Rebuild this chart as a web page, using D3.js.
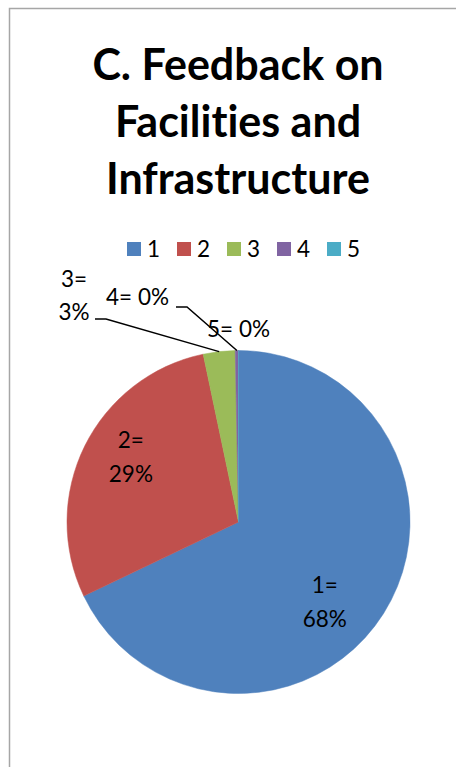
<!DOCTYPE html>
<html>
<head>
<meta charset="utf-8">
<script src="https://cdn.jsdelivr.net/npm/d3@7"></script>
<style>
  body { margin: 0; background: #fff; }
  svg { display: block; font-family: Lato, "Open Sans", sans-serif; font-variant-ligatures: none; }
</style>
</head>
<body>
<div id="chart"></div>
<script>
// data (share of answers, in %)
const categories = ["1", "2", "3", "4", "5"];
const shares = [67.9, 28.8, 3.0, 0.3, 0.0];
const colors = ["#4F81BD", "#C0504D", "#9BBB59", "#8064A2", "#4BACC6"];
const titleLines = ["C. Feedback on", "Facilities and", "Infrastructure"];

const width = 456, height = 767;

let svg = d3.select("#chart")
    .append("svg")
    .attr("width", width)
    .attr("height", height);

// chart frame (only left + top edge fall in the picture)
svg.append("path")
    .attr("d", `M9.5,${height} V8.5 H${width}`)
    .attr("fill", "none")
    .attr("stroke", "#a6a6a6")
    .attr("stroke-width", 1.5);

// title
svg.append("g")
    .selectAll("text")
    .data(titleLines)
    .join("text")
    .attr("x", 238)
    .attr("y", (d, i) => 80 + i * 57)
    .attr("text-anchor", "middle")
    .style("font-weight", "bold")
    .style("font-size", "43px")
    .text(d => d);

// legend
let legend = svg.append("g")
    .attr("transform", "translate(127, 242)")
    .selectAll("g")
    .data(categories)
    .join("g")
    .attr("transform", (d, i) => `translate(${i * 50}, 0)`);

legend.append("rect")
    .attr("width", 14)
    .attr("height", 14)
    .attr("fill", (d, i) => colors[i]);

legend.append("text")
    .attr("x", 20)
    .attr("y", 14.5)
    .style("font-size", "22.5px")
    .text(d => d);

// pie, first slice starts at 12 o'clock and goes clockwise
const cx = 238.5, cy = 522, r = 171.5;

let pie = d3.pie().sort(null).value(d => d.v);
let arcs = pie(categories.map((c, i) => ({ name: c, v: shares[i], color: colors[i] })));

let arc = d3.arc().innerRadius(0).outerRadius(r);

let g = svg.append("g")
    .attr("transform", `translate(${cx}, ${cy})`);

g.selectAll("path")
    .data(arcs)
    .join("path")
    .attr("d", arc)
    .attr("fill", d => d.data.color)
    .attr("stroke", d => d.data.color)
    .attr("stroke-width", 0.5);

// point on the circle at a given angle (radians, clockwise from top)
function polar(a, rad) {
    return [Math.sin(a) * rad, -Math.cos(a) * rad];
}

// label placement (Excel "best fit" + dragged outside labels)
// inside: radius factor + angle shift; outside: label offset from pie centre
const labelLayout = [
    { inside: true, rf: 0.735, shift: 0.255 },
    { inside: true, rf: 0.70, shift: 0.0 },
    { inside: false, x: -164.5, y: -235, lines: 2, leader: [-143.5, -203] },
    { inside: false, x: -101, y: -217, lines: 1, leader: [-62.5, -215] },
    { inside: false, x: 0, y: -185, lines: 1 }
];

arcs.forEach(function (d, i) {
    let lay = labelLayout[i];
    let pct = Math.round(d.data.v) + "%";
    let name = d.data.name + "=";
    let mid = (d.startAngle + d.endAngle) / 2;

    let t = g.append("text")
        .attr("text-anchor", "middle")
        .style("font-size", "22.5px");

    if (lay.inside) {
        let p = polar(mid + lay.shift, r * lay.rf);
        t.append("tspan").attr("x", p[0]).attr("y", p[1] - 21).text(name);
        t.append("tspan").attr("x", p[0]).attr("y", p[1] + 13).text(pct);
        return;
    }

    if (lay.lines === 2) {
        t.append("tspan").attr("x", lay.x).attr("y", lay.y).text(name);
        t.append("tspan").attr("x", lay.x).attr("y", lay.y + 33).text(pct);
    } else {
        t.append("tspan").attr("x", lay.x).attr("y", lay.y).text(name + " " + pct);
    }

    // leader line: short horizontal stub, then to the slice edge
    if (lay.leader) {
        let end = polar(mid, r);
        let pts = [lay.leader, [lay.leader[0] + 11, lay.leader[1]], end];
        g.append("path")
            .attr("d", d3.line()(pts))
            .attr("fill", "none")
            .attr("stroke", "#000")
            .attr("stroke-width", 1.5);
    }
});
</script>
</body>
</html>
